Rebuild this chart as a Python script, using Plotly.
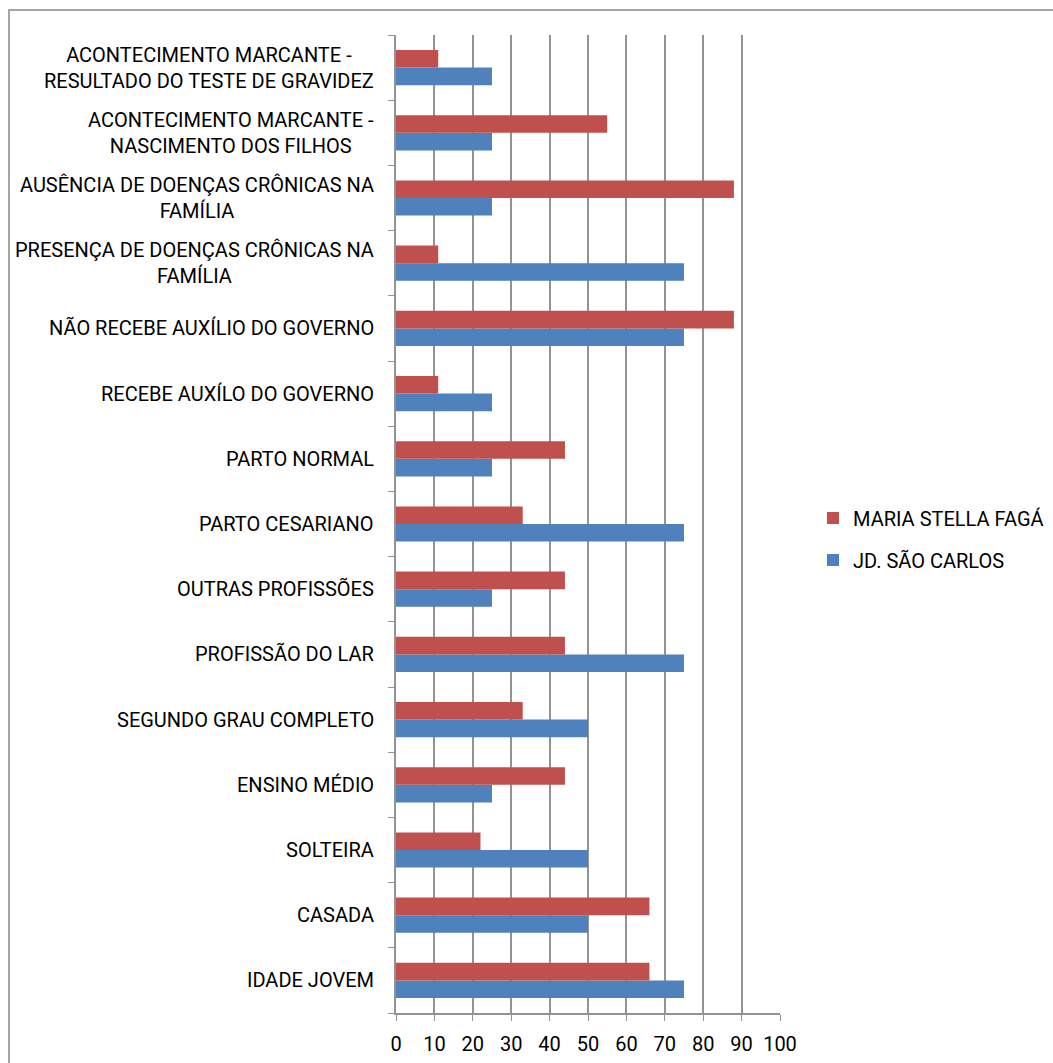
import plotly.graph_objects as go

categories = [
    "IDADE JOVEM",
    "CASADA",
    "SOLTEIRA",
    "ENSINO MÉDIO",
    "SEGUNDO GRAU COMPLETO",
    "PROFISSÃO DO LAR",
    "OUTRAS PROFISSÕES",
    "PARTO CESARIANO",
    "PARTO NORMAL",
    "RECEBE AUXÍLO DO GOVERNO",
    "NÃO RECEBE AUXÍLIO DO GOVERNO",
    "PRESENÇA DE DOENÇAS CRÔNICAS NA<br>FAMÍLIA",
    "AUSÊNCIA DE DOENÇAS CRÔNICAS NA<br>FAMÍLIA",
    "ACONTECIMENTO MARCANTE -<br>NASCIMENTO DOS FILHOS",
    "ACONTECIMENTO MARCANTE -<br>RESULTADO DO TESTE DE GRAVIDEZ",
]
jd_sao_carlos = [75, 50, 50, 25, 50, 75, 25, 75, 25, 25, 75, 75, 25, 25, 25]
maria_stella = [66, 66, 22, 44, 33, 44, 44, 33, 44, 11, 88, 11, 88, 55, 11]
x_ticks = list(range(0, 101, 10))

FONT = "Roboto, sans-serif"

fig = go.Figure()
fig.add_trace(go.Bar(y=categories, x=jd_sao_carlos, orientation="h", legendgroup="b", legendrank=2,
                     name="JD. SÃO CARLOS", marker=dict(color="#4F81BD", line=dict(width=0))))
fig.add_trace(go.Bar(y=categories, x=maria_stella, orientation="h", legendgroup="r", legendrank=1,
                     name="MARIA STELLA FAGÁ", marker=dict(color="#C0504D", line=dict(width=0))))

W, H = 1053, 1063
L, R, T, B = 396, 273, 35, 50
PW, PH = W - L - R, H - T - B

annotations = [
    dict(x=0, xref="paper", y=c, yref="y", text=c, showarrow=False,
         xanchor="right", yanchor="middle", align="center", xshift=-20,
         font=dict(family=FONT, size=20, color="#000000"))
    for c in categories
]

fig.update_layout(
    width=W, height=H,
    margin=dict(l=L, r=R, t=T, b=B, autoexpand=False),
    barmode="group", bargap=0.46, bargroupgap=0,
    paper_bgcolor="white", plot_bgcolor="white",
    font=dict(family=FONT, size=20, color="#000000"),
    showlegend=True,
    legend=dict(traceorder="grouped", x=(813 - L) / PW, y=0.5 - 15 / PH,
                xanchor="left", yanchor="middle",
                font=dict(size=20), tracegroupgap=13, bgcolor="rgba(0,0,0,0)"),
    xaxis=dict(range=[0, 100], tickvals=x_ticks, ticktext=[str(v) for v in x_ticks],
               showgrid=True, gridcolor="#939393", gridwidth=1.5,
               showline=True, linecolor="#939393", linewidth=1.5,
               ticks="outside", ticklen=6, tickcolor="#939393", zeroline=False,
               ticklabelstandoff=6, tickfont=dict(size=20)),
    yaxis=dict(showline=True, linecolor="#939393", linewidth=1.5,
               ticks="outside", ticklen=6, tickcolor="#939393", tickson="boundaries",
               showgrid=False, showticklabels=False, automargin=False),
    annotations=annotations,
    shapes=[dict(type="rect", xref="paper", yref="paper",
                 x0=-(L - 9) / PW, x1=(W - L + 40) / PW,
                 y0=-(B + 40) / PH, y1=1 + (T - 10) / PH,
                 line=dict(color="#A6A6A6", width=2), fillcolor="rgba(0,0,0,0)", layer="below")],
)

fig.write_html("out.html")
